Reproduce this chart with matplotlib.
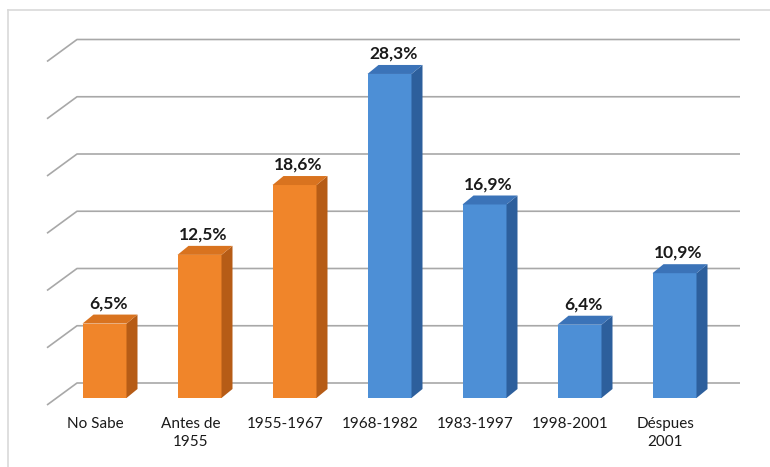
import matplotlib.pyplot as plt
from matplotlib.patches import Polygon
from matplotlib.lines import Line2D

plt.rcParams['font.family'] = ['Lato', 'DejaVu Sans']

# data
categories = ['No Sabe', 'Antes de\n1955', '1955-1967', '1968-1982', '1983-1997', '1998-2001', 'Déspues\n2001']
values = [6.5, 12.5, 18.6, 28.3, 16.9, 6.4, 10.9]
value_labels = ['6,5%', '12,5%', '18,6%', '28,3%', '16,9%', '6,4%', '10,9%']
groups = ['o', 'o', 'o', 'b', 'b', 'b', 'b']
grid_levels = [0, 5, 10, 15, 20, 25, 30]

# colours per group: front, side, top
pal = {'o': ('#F0852A', '#B65C16', '#D9731F'),
       'b': ('#4D8FD6', '#2D5F9C', '#3B73B8')}

W, H = 770, 467
fig = plt.figure(figsize=(W / 100, H / 100), dpi=100)
ax = fig.add_axes([0, 0, 1, 1])

# pixel scale of the chart
px_cat = 95.0     # pixels per category
px_pct = 11.45    # pixels per percent
x0_px, y0_px = 104.5, 398.0
ax.set_xlim(-x0_px / px_cat, (W - x0_px) / px_cat)
ax.set_ylim(-(H - y0_px) / px_pct, y0_px / px_pct)
ax.axis('off')

# back wall + left wall gridlines
wall_dx = (77 - x0_px) / px_cat
wall_right = (740 - x0_px) / px_cat
wall_dy = 15 / px_pct
side_dx = -30 / px_cat
side_dy = -22 / px_pct
for g in grid_levels:
    yb = g + wall_dy
    ax.plot([wall_dx + side_dx, wall_dx, wall_right], [yb + side_dy, yb, yb],
            color='#a8a8a8', lw=1.2, zorder=1, solid_capstyle='butt')

# bars
bw = 44 / px_cat
ddx = 11 / px_cat
ddy = 9 / px_pct
for i, (v, g) in enumerate(zip(values, groups)):
    front, side, top = pal[g]
    ax.bar(i, v, width=bw, color=front, zorder=3, linewidth=0)
    xl, xr = i - bw / 2, i + bw / 2
    ax.add_patch(Polygon([(xr, 0), (xr + ddx, ddy), (xr + ddx, v + ddy), (xr, v)],
                         closed=True, facecolor=side, edgecolor='none', zorder=3))
    ax.add_patch(Polygon([(xl, v), (xl + ddx, v + ddy), (xr + ddx, v + ddy), (xr, v)],
                         closed=True, facecolor=top, edgecolor='none', zorder=3))
    ax.text(i + ddx / 2 - 0.02, v + ddy + 0.3, value_labels[i], ha='center', va='bottom',
            fontsize=12.5, fontweight='bold', color='#1a1a1a', zorder=4)
    ax.text(i - 0.095, -1.7, categories[i], ha='center', va='top',
            fontsize=11, color='#1a1a1a', linespacing=1.3)

# light frame
fig.add_artist(Line2D([8 / W, 1], [1 - 10 / H, 1 - 10 / H], color='#d9d9d9', lw=1.2))
fig.add_artist(Line2D([8 / W, 8 / W], [0, 1 - 10 / H], color='#d9d9d9', lw=1.2))

fig.savefig('out.png', dpi=100)
